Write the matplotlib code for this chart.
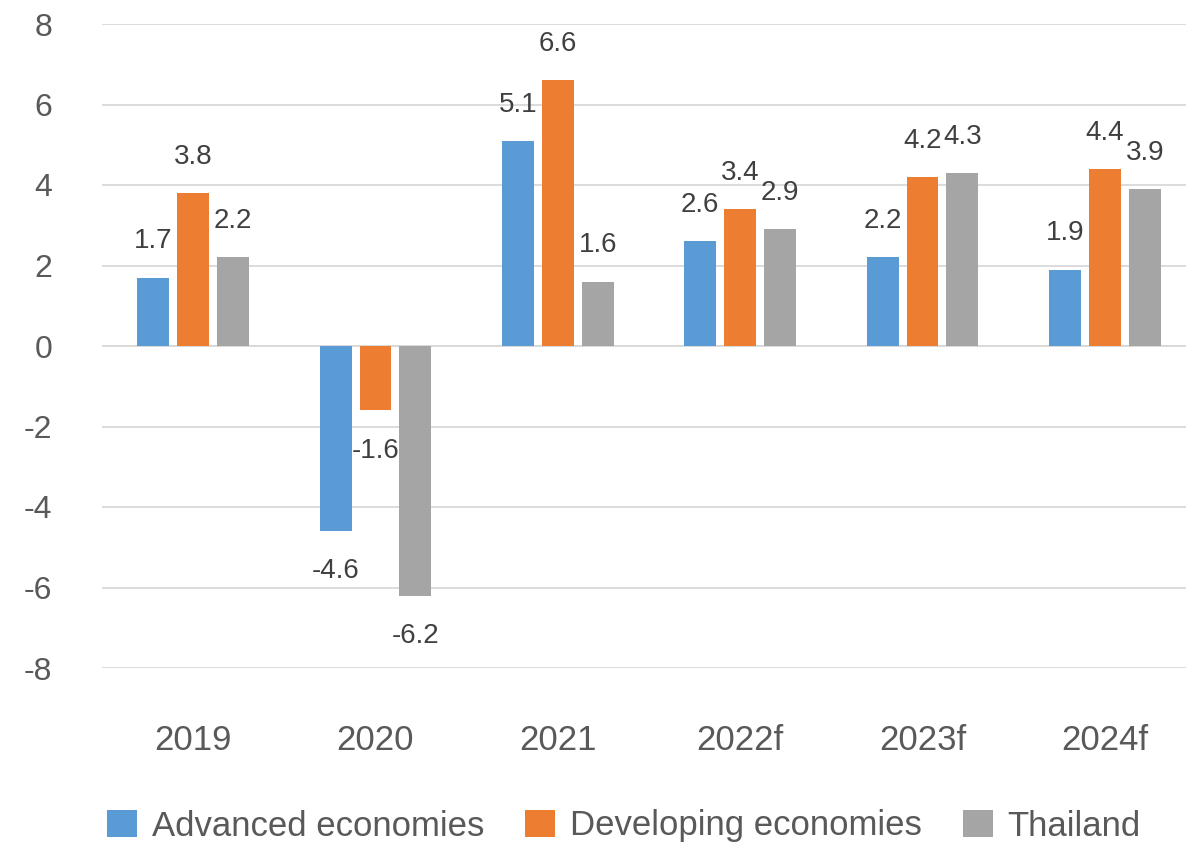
import matplotlib.pyplot as plt
import numpy as np

plt.rcParams["font.family"] = ["Liberation Sans", "DejaVu Sans"]
plt.rcParams["axes.unicode_minus"] = False

years = ["2019", "2020", "2021", "2022f", "2023f", "2024f"]
advanced = [1.7, -4.6, 5.1, 2.6, 2.2, 1.9]
developing = [3.8, -1.6, 6.6, 3.4, 4.2, 4.4]
thailand = [2.2, -6.2, 1.6, 2.9, 4.3, 3.9]

series = [
    ("Advanced economies", advanced, "#5B9BD5"),
    ("Developing economies", developing, "#ED7D31"),
    ("Thailand", thailand, "#A5A5A5"),
]

text_color = "#595959"
W, H = 1186, 842
fig = plt.figure(figsize=(W / 100, H / 100), dpi=100)
ax = fig.add_axes([102 / W, 1 - 668 / H, 1094 / W, 644 / H])

x = np.arange(len(years))
step = 0.219
width = 0.175
for i, (name, vals, color) in enumerate(series):
    pos = x + (i - 1) * step
    ax.bar(pos, vals, width, color=color, label=name, zorder=3)
    for px, v in zip(pos, vals):
        ax.annotate(f"{v:.1f}", (px, v), xytext=(0, 26 if v > 0 else -29),
                    textcoords="offset points", ha="center", va="center",
                    fontsize=20, color="#404040")

ax.set_ylim(-8, 8)
ax.set_xlim(-0.5, 5.5)
ax.set_yticks(range(-8, 9, 2))
ax.set_xticks(x)
ax.set_xticklabels(years)
ax.grid(axis="y", color="#D9D9D9", linewidth=1.3, zorder=0)
ax.axhline(0, color="#D9D9D9", linewidth=1.3, zorder=1)
for s in ax.spines.values():
    s.set_visible(False)
ax.tick_params(axis="y", length=0, pad=36, labelsize=23, labelcolor=text_color)
ax.tick_params(axis="x", length=0, pad=40, labelsize=25, labelcolor=text_color)

fig.legend(loc="center", bbox_to_anchor=(624 / W, 1 - 826 / H), ncol=3,
           frameon=False, fontsize=25, labelcolor=text_color,
           handlelength=0.86, handleheight=0.86, handletextpad=0.43,
           columnspacing=1.18)

fig.savefig("out.png", dpi=100)
